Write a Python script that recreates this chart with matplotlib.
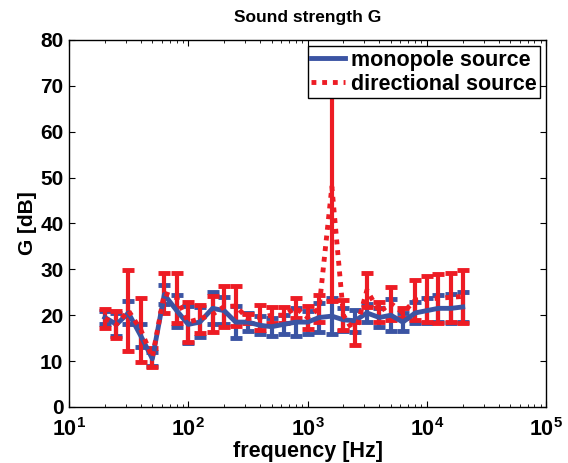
import matplotlib
matplotlib.use("Agg")
import matplotlib.pyplot as plt
import numpy as np

plt.rcParams["font.family"] = ["Liberation Sans", "DejaVu Sans"]
plt.rcParams["font.weight"] = "bold"
plt.rcParams["mathtext.fontset"] = "custom"
plt.rcParams["mathtext.rm"] = "Liberation Sans:bold"
plt.rcParams["mathtext.bf"] = "Liberation Sans:bold"

# third-octave band centre frequencies
freqs = [20, 25, 31.5, 40, 50, 63, 80, 100, 125, 160, 200, 250, 315, 400, 500,
         630, 800, 1000, 1250, 1600, 2000, 2500, 3150, 4000, 5000, 6300, 8000,
         10000, 12500, 16000, 20000]

mono_mean = [19.5, 18.0, 20.5, 15.5, 10.5, 24.5, 21.0, 18.0, 18.5, 21.5, 21.0,
             18.5, 18.5, 17.8, 17.5, 18.0, 18.5, 18.5, 19.5, 19.8, 19.0, 18.8,
             20.5, 19.5, 20.0, 18.5, 20.5, 21.0, 21.5, 21.5, 21.8]
mono_err = [1.5, 2.5, 2.5, 2.5, 1.5, 2.0, 3.5, 4.0, 3.2, 3.5, 3.0, 3.5, 2.0,
            2.0, 2.0, 2.0, 3.0, 2.5, 3.2, 4.0, 2.5, 2.4, 2.0, 2.0, 3.5, 2.0,
            2.3, 2.8, 3.0, 3.2, 3.2]

dir_mean = [19.3, 18.0, 21.0, 16.8, 10.8, 24.8, 23.8, 18.5, 19.2, 20.2, 21.9,
            22.0, 19.3, 19.5, 20.0, 20.0, 21.6, 19.5, 21.5, 48.0, 20.0, 16.0,
            25.5, 20.7, 22.6, 20.5, 23.3, 23.5, 23.7, 23.9, 24.1]
dir_err = [2.1, 3.0, 8.8, 7.0, 2.1, 4.4, 5.5, 4.4, 3.0, 3.9, 4.5, 4.4, 1.0,
           2.7, 1.7, 1.7, 2.1, 2.5, 3.0, 25.0, 3.3, 2.5, 3.7, 2.2, 3.6, 1.0,
           4.4, 5.0, 5.3, 5.4, 5.8]

blue = "#3b54a3"
red = "#ed1c24"

fig = plt.figure(figsize=(5.68, 4.63), dpi=100)
ax = fig.add_axes([0.1215, 0.121, 0.8398, 0.7927])

eb1 = ax.errorbar(freqs, mono_mean, yerr=mono_err, color=blue, linestyle="-",
                  linewidth=3.5, elinewidth=3, capsize=4, capthick=3.5)
eb2 = ax.errorbar(freqs, dir_mean, yerr=dir_err, color=red,
                  linestyle=(0, (1, 1.2)), linewidth=3.5, elinewidth=3,
                  capsize=4, capthick=3.5)

ax.set_xscale("log")
ax.set_xlim(10, 1e5)
ax.set_ylim(0, 80)
ax.set_yticks(np.arange(0, 81, 10))
ax.set_xticks([1e1, 1e2, 1e3, 1e4, 1e5])
ax.set_xticklabels([r"$10^{%d}$" % k for k in range(1, 6)])

ax.tick_params(which="both", direction="in", top=True, right=True,
               labelsize=15)
ax.tick_params(which="major", length=4, width=0.8)
ax.tick_params(which="minor", length=2, width=0.6)
ax.tick_params(axis="y", which="major", pad=4)
ax.tick_params(axis="x", which="major", pad=8, labelsize=15.5)
for s in ax.spines.values():
    s.set_linewidth(1.0)

ax.set_title("Sound strength G", fontsize=12.5, fontweight="bold", pad=13)
ax.set_xlabel("frequency [Hz]", fontsize=15.5, fontweight="bold", labelpad=0)
ax.set_ylabel("G [dB]", fontsize=15, fontweight="bold", labelpad=2)

leg = ax.legend([eb1[0], eb2[0]], ["monopole source", "directional source"],
                loc="upper right", fontsize=15.5, fancybox=False,
                edgecolor="black", framealpha=1, handlelength=1.6,
                borderaxespad=0.3, borderpad=0.15, labelspacing=0.15,
                handletextpad=0.25)
leg.get_frame().set_linewidth(1.0)
leg.set_zorder(10)

fig.savefig("out.png", dpi=100)
